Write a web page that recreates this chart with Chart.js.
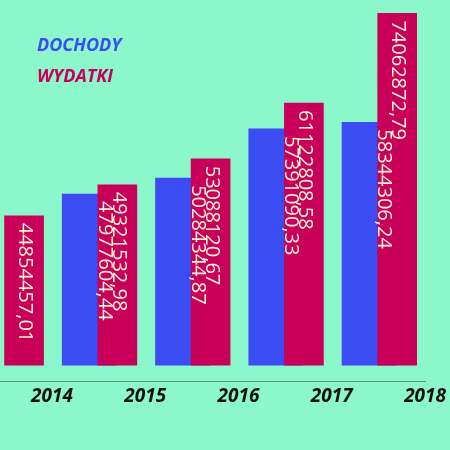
<!DOCTYPE html>
<html>
<head>
<meta charset="utf-8">
<script src="https://cdn.jsdelivr.net/npm/chart.js@4/dist/chart.umd.min.js"></script>
<style>
  html, body { margin: 0; padding: 0; background: #8cf7cb; }
  #wrap { width: 450px; height: 450px; }
</style>
</head>
<body>
<div id="wrap"><canvas id="chart"></canvas></div>
<script>
// Data
const years = [2014, 2015, 2016, 2017, 2018];
const dochody = [47977604.44, 50284344.87, 57391090.33, 58344306.24, null];
const wydatki = [44854457.01, 49321532.98, 53088120.67, 61122808.58, 74062872.79];

const BASE = 23300000;   // bars are drawn from a non-zero base in the original
const RED = '#c8005a';
const BLUE = '#3b4df2';

const fmt = v => v.toFixed(2).replace('.', ',');

// draw the two-line legend and the rotated value labels
const labelsPlugin = {
    id: 'labels',
    afterDatasetsDraw(chart) {
        const ctx = chart.ctx;
        ctx.save();
        ctx.font = 'bold italic 18px "Open Sans"';
        ctx.textBaseline = 'middle';
        ctx.fillStyle = BLUE;
        ctx.fillText(chart.data.datasets[1].label, 37, 46);
        ctx.fillStyle = RED;
        ctx.fillText(chart.data.datasets[0].label, 37, 77);

        ctx.font = '20px "Open Sans"';
        ctx.fillStyle = '#f6f0d0';
        ctx.textAlign = 'left';
        chart.data.datasets.forEach((ds, di) => {
            chart.getDatasetMeta(di).data.forEach((bar, i) => {
                const v = ds.data[i].y;
                if (!v) return;
                const top = Math.min(bar.y, bar.base);
                const x = di === 1 ? bar.x + bar.width / 2 - 12 : bar.x + 1;
                ctx.save();
                ctx.translate(x, top + 7);
                ctx.rotate(Math.PI / 2);
                ctx.fillText(fmt(v[1]), 0, 0);
                ctx.restore();
            });
        });
        ctx.restore();
    }
};

new Chart(document.getElementById('chart'), {
    type: 'bar',
    data: {
        datasets: [
            {
                label: 'WYDATKI',
                data: years.map((y, i) => ({ x: y - 0.09, y: [BASE, wydatki[i]] })),
                backgroundColor: RED,
                barThickness: 39
            },
            {
                label: 'DOCHODY',
                data: years.map((y, i) => ({ x: y + 0.11, y: dochody[i] ? [BASE, dochody[i]] : null })),
                backgroundColor: BLUE,
                barThickness: 54
            }
        ]
    },
    options: {
        responsive: true,
        maintainAspectRatio: false,
        animation: false,
        layout: { padding: 0 },
        plugins: { legend: { display: false }, tooltip: { enabled: false } },
        scales: {
            x: {
                type: 'linear',
                offset: false,
                min: 2013.443,
                max: 2018.002,
                afterBuildTicks: s => { s.ticks = years.map(v => ({ value: v })); },
                afterFit: s => { s.height = 69; },
                grid: { display: false, drawTicks: false, offset: false },
                border: { color: '#5f8f80', width: 1 },
                ticks: {
                    padding: 4,
                    color: '#111',
                    font: { family: '"Open Sans"', size: 19, weight: 'bold', style: 'italic' },
                    callback: v => String(v)
                }
            },
            y: {
                display: false,
                min: 21000000,
                max: 76000000
            }
        }
    },
    plugins: [labelsPlugin]
});
</script>
</body>
</html>
